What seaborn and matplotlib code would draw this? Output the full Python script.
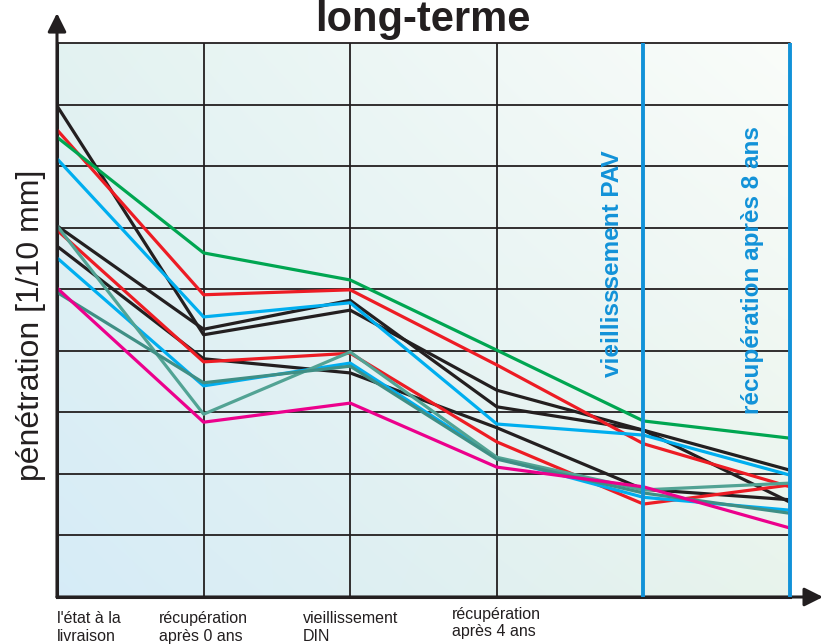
import numpy as np
import pandas as pd
import seaborn as sns
import matplotlib.pyplot as plt

# étapes (axe x) : 4 étiquettes en bas, 2 étiquettes verticales
etapes = ["l'état à la\nlivraison", "récupération\naprès 0 ans",
          "vieillissement\nDIN", "récupération\naprès 4 ans"]
etapes_vert = ["vieillisssement PAV", "récupération après 8 ans"]
positions = [0, 1, 2, 3, 4, 5]

# pénétration (unités de grille x10)
noir_a = [79.8, 42.6, 46.6, 33.6, 27.1, 15.4]
noir_b = [60.3, 43.5, 48.2, 30.9, 27.1, 20.6]
noir_c = [57.0, 38.7, 36.4, 27.5, 17.5, 15.8]
rouge_a = [75.9, 49.1, 49.9, 37.7, 24.9, 17.9]
rouge_b = [59.6, 38.2, 39.6, 25.2, 15.1, 18.2]
vert = [74.7, 55.9, 51.5, 40.1, 28.6, 25.8]
bleu_a = [71.2, 45.5, 47.8, 28.1, 26.3, 19.8]
bleu_b = [55.1, 34.3, 38.0, 22.6, 16.2, 14.1]
sarcelle_a = [60.3, 29.7, 39.8, 22.7, 17.4, 18.5]
sarcelle_b = [49.5, 34.8, 37.5, 22.4, 16.9, 13.6]
magenta = [50.2, 28.4, 31.5, 21.1, 17.9, 11.2]

series = {
    "noir_a": noir_a, "noir_b": noir_b, "noir_c": noir_c,
    "rouge_a": rouge_a, "rouge_b": rouge_b, "vert": vert,
    "bleu_a": bleu_a, "bleu_b": bleu_b,
    "sarcelle_a": sarcelle_a, "sarcelle_b": sarcelle_b, "magenta": magenta,
}
couleurs = {
    "noir_a": "#231f20", "noir_b": "#231f20", "noir_c": "#231f20",
    "rouge_a": "#ed1c24", "rouge_b": "#ed1c24", "vert": "#00a651",
    "bleu_a": "#00aeef", "bleu_b": "#00aeef",
    "sarcelle_a": "#52a394", "sarcelle_b": "#3f8f85", "magenta": "#ec008c",
}

df = pd.DataFrame([
    {"x": p, "val": v, "serie": nom}
    for nom, vals in series.items() for p, v in zip(positions, vals)
])

sns.set_style("white")
plt.rcParams['font.family'] = ['Liberation Sans', 'DejaVu Sans']

fig = plt.figure(figsize=(8.31, 6.44), dpi=100)
ax = fig.add_axes([57 / 831, 47 / 644, 733 / 831, 554 / 644])

# fond en dégradé
n = 60
gx, gy = np.meshgrid(np.linspace(0, 1, n), np.linspace(0, 1, n))
bl = np.array([0.84, 0.925, 0.97])
tl = np.array([0.89, 0.95, 0.945])
br = np.array([0.91, 0.955, 0.925])
tr = np.array([0.98, 0.99, 0.98])
img = (bl * ((1 - gx) * (1 - gy))[..., None] + br * (gx * (1 - gy))[..., None]
       + tl * ((1 - gx) * gy)[..., None] + tr * (gx * gy)[..., None])
ax.imshow(img, extent=[0, 5, 0, 90], origin="lower", aspect="auto",
          interpolation="bilinear", zorder=0)

# grille
for yv in range(10, 91, 10):
    ax.axhline(yv, color="#231f20", lw=1.3, zorder=1, clip_on=False)
for xv in [1, 2, 3]:
    ax.axvline(xv, color="#231f20", lw=1.3, zorder=1)
for xv in [4, 5]:
    ax.axvline(xv, color="#1292d8", lw=2.8, zorder=4, clip_on=False,
               solid_capstyle="butt")

sns.lineplot(data=df, x="x", y="val", hue="serie", palette=couleurs,
             hue_order=list(series.keys()), legend=False, linewidth=2.3,
             ax=ax, zorder=3)

ax.set_xlim(0, 5)
ax.set_ylim(0, 90)
ax.set_xticks([])
ax.set_yticks([])
ax.set_xlabel("")
ax.set_ylabel("")
for s in ["top", "right"]:
    ax.spines[s].set_visible(False)
ax.spines["left"].set_color("#231f20")
ax.spines["left"].set_linewidth(2.2)
ax.spines["bottom"].set_color("#231f20")
ax.spines["bottom"].set_linewidth(2.2)

# flèches des axes
fleche = dict(arrowstyle="-|>", lw=2.2, color="#231f20", mutation_scale=28,
              shrinkA=0, shrinkB=0)
ax.annotate("", xy=(0, 1.054), xytext=(0, 0), xycoords="axes fraction",
            arrowprops=fleche, annotation_clip=False)
ax.annotate("", xy=(1.045, 0), xytext=(0, 0), xycoords="axes fraction",
            arrowprops=fleche, annotation_clip=False)

# étiquettes du bas
trans = ax.get_xaxis_transform()
for i, lab in enumerate(etapes):
    ax.text(positions[i], -0.026 if i < 3 else -0.018, lab, transform=trans,
            ha="left" if i == 0 else "center", va="top", multialignment="left",
            fontsize=11.5, color="#231f20", linespacing=1.2)

# étiquettes verticales
ax.text(3.786, 54.1, etapes_vert[0], rotation=90, ha="center", va="center",
        fontsize=17.5, fontweight="bold", color="#1292d8", zorder=5)
ax.text(4.741, 53.1, etapes_vert[1], rotation=90, ha="center", va="center",
        fontsize=17.5, fontweight="bold", color="#1292d8", zorder=5)

fig.text(31 / 831, 1 - 325 / 644, "pénétration [1/10 mm]", rotation=90,
         ha="center", va="center", fontsize=23, color="#231f20")
fig.text(423 / 831, 1 - 31 / 644, "long-terme", ha="center", va="baseline",
         fontsize=30, fontweight="bold", color="#231f20")

fig.savefig("out.png", dpi=100)
